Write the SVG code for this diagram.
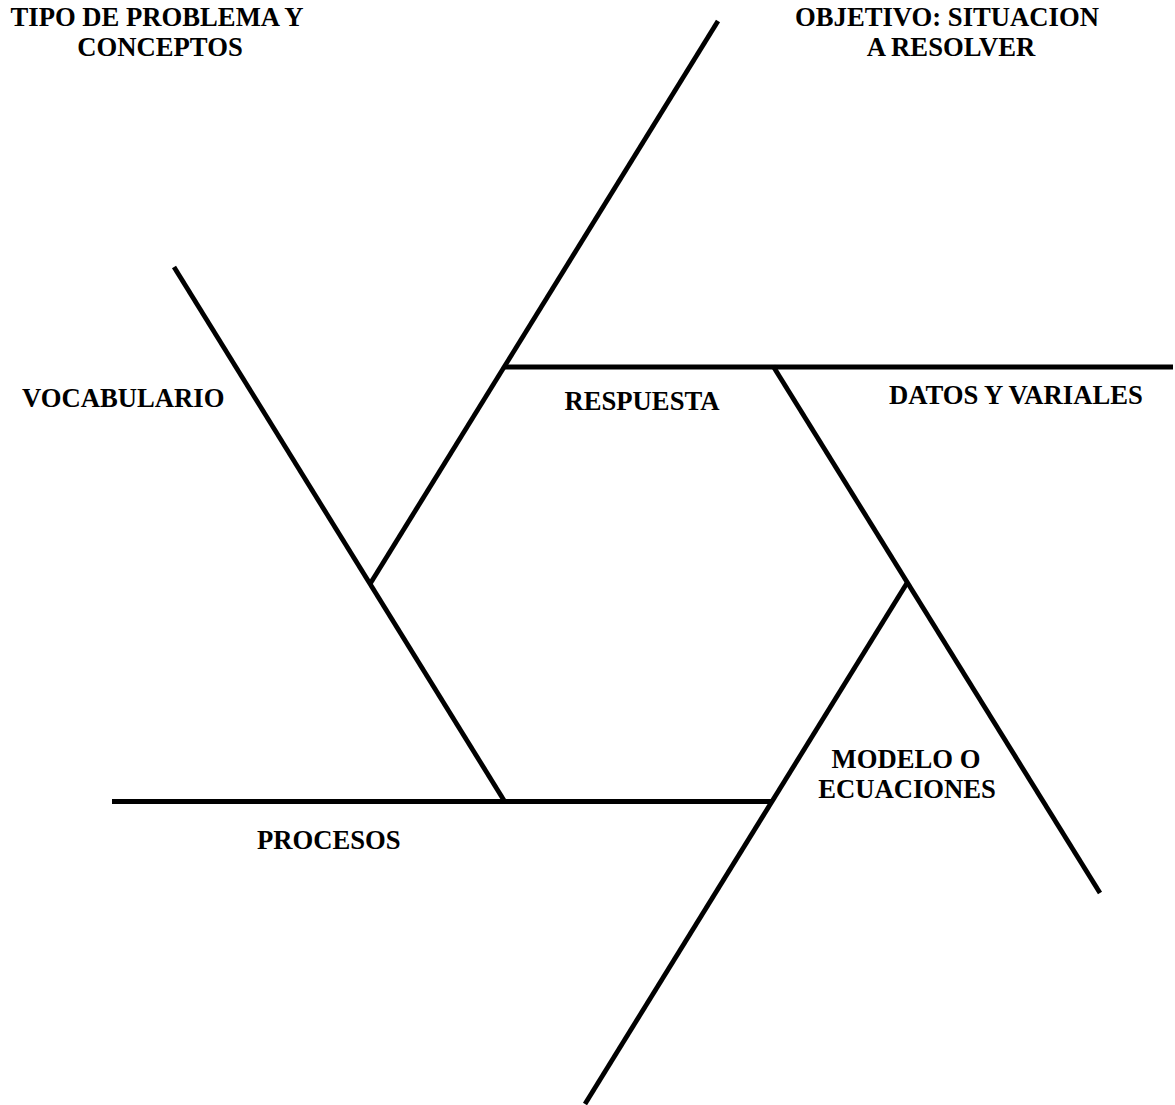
<svg xmlns="http://www.w3.org/2000/svg" width="1175" height="1105" viewBox="0 0 1175 1105">
<style>
.t{font-family:"Liberation Serif","Times New Roman",serif;font-weight:bold;font-size:26.67px;fill:#000}
.m{text-anchor:middle}
.c line{stroke:#000;stroke-width:4.8;stroke-linecap:butt;fill:none}
</style>
<rect width="1175" height="1105" fill="#fff"/>
<g id="connectors" class="c">
<line x1="718" y1="21" x2="370" y2="584"/>
<line x1="174" y1="267" x2="505" y2="802"/>
<line x1="112" y1="801.5" x2="773" y2="801.5"/>
<line x1="585" y1="1104" x2="907" y2="583"/>
<line x1="1100" y1="893" x2="773" y2="366"/>
<line x1="505" y1="367" x2="1173" y2="367"/>
</g>
<g id="tipo"><text class="t m"><tspan x="157" y="26">TIPO DE PROBLEMA Y</tspan><tspan x="160" y="56">CONCEPTOS</tspan></text></g>
<g id="objetivo"><text class="t m"><tspan x="947" y="26">OBJETIVO: SITUACION</tspan><tspan x="951" y="56">A RESOLVER</tspan></text></g>
<g id="vocabulario"><text class="t" x="22" y="407">VOCABULARIO</text></g>
<g id="respuesta"><text class="t m" x="642" y="410">RESPUESTA</text></g>
<g id="datos"><text class="t" x="889" y="404">DATOS Y VARIALES</text></g>
<g id="modelo"><text class="t m"><tspan x="906" y="768">MODELO O</tspan><tspan x="907" y="798">ECUACIONES</tspan></text></g>
<g id="procesos"><text class="t" x="257" y="849">PROCESOS</text></g>
</svg>
